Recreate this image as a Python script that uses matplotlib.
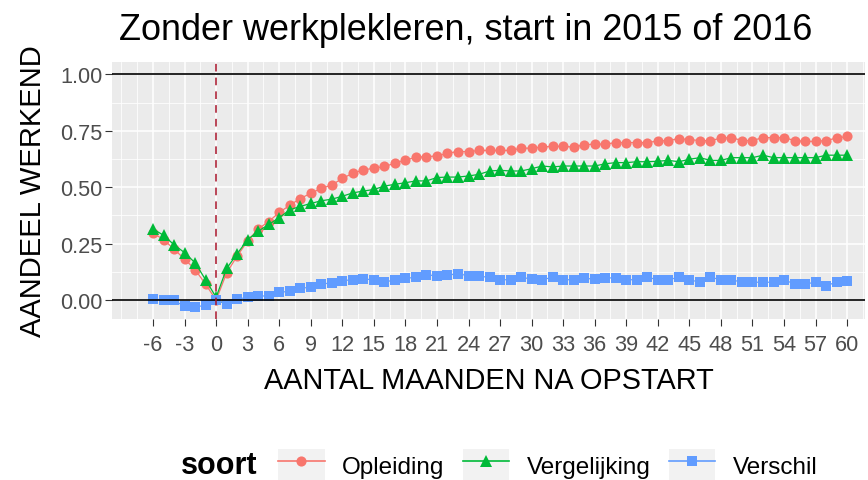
import numpy as np
import matplotlib
matplotlib.use('Agg')
import matplotlib.pyplot as plt
from matplotlib.patches import Rectangle
from matplotlib.lines import Line2D
from matplotlib.legend_handler import HandlerTuple

plt.rcParams['font.family'] = ['Liberation Sans', 'DejaVu Sans']
plt.rcParams['axes.unicode_minus'] = False

# data, months -6 .. 60
maanden = list(range(-6, 61))

opleiding = [0.297, 0.268, 0.225, 0.182, 0.135, 0.070, 0.000,
             0.120, 0.195, 0.262, 0.315, 0.348, 0.388, 0.420, 0.450, 0.473, 0.495,
             0.510, 0.539, 0.562, 0.577, 0.584, 0.592, 0.606, 0.621, 0.632, 0.636,
             0.638, 0.651, 0.658, 0.658, 0.663, 0.663, 0.663, 0.663, 0.673, 0.673,
             0.678, 0.681, 0.681, 0.678, 0.688, 0.691, 0.691, 0.698, 0.698, 0.698,
             0.698, 0.705, 0.707, 0.715, 0.711, 0.707, 0.706, 0.718, 0.720, 0.707,
             0.707, 0.720, 0.720, 0.720, 0.707, 0.703, 0.703, 0.707, 0.718, 0.725]

vergelijking = [0.315, 0.287, 0.245, 0.210, 0.165, 0.090, 0.012,
                0.140, 0.205, 0.268, 0.305, 0.335, 0.365, 0.400, 0.415, 0.428, 0.440,
                0.447, 0.460, 0.475, 0.483, 0.490, 0.505, 0.513, 0.520, 0.528, 0.528,
                0.543, 0.545, 0.545, 0.550, 0.557, 0.572, 0.575, 0.572, 0.572, 0.582,
                0.594, 0.590, 0.594, 0.594, 0.594, 0.594, 0.604, 0.609, 0.609, 0.613,
                0.613, 0.615, 0.619, 0.613, 0.624, 0.631, 0.619, 0.619, 0.631, 0.631,
                0.631, 0.642, 0.631, 0.631, 0.631, 0.631, 0.631, 0.642, 0.642, 0.642]

verschil = [0.005, 0.000, -0.002, -0.028, -0.032, -0.022, 0.000,
            -0.018, 0.004, 0.012, 0.016, 0.020, 0.034, 0.039, 0.052, 0.057, 0.071,
            0.076, 0.086, 0.090, 0.093, 0.090, 0.079, 0.090, 0.096, 0.101, 0.111,
            0.108, 0.111, 0.116, 0.108, 0.105, 0.101, 0.090, 0.090, 0.101, 0.093,
            0.090, 0.101, 0.090, 0.090, 0.096, 0.093, 0.098, 0.098, 0.090, 0.090,
            0.101, 0.090, 0.090, 0.101, 0.090, 0.079, 0.101, 0.090, 0.090, 0.079,
            0.079, 0.079, 0.079, 0.090, 0.071, 0.071, 0.079, 0.064, 0.079, 0.086]

soorten = ['Opleiding', 'Vergelijking', 'Verschil']
kleuren = ['#F8766D', '#00BA38', '#619CFF']
markers = ['o', '^', 's']
msizes = [7.3, 8.3, 6.8]
reeksen = [opleiding, vergelijking, verschil]

xticks = list(range(-6, 61, 3))
yticks = [0, 0.25, 0.5, 0.75, 1.0]

W, H = 868, 481
L, R, T, B = 112, 865, 63, 320
fig = plt.figure(figsize=(W / 100, H / 100), dpi=100)
ax = fig.add_axes([L / W, 1 - B / H, (R - L) / W, (B - T) / H])

ax.set_facecolor('#EBEBEB')
for s in ax.spines.values():
    s.set_visible(False)

for naam, kleur, mk, ms, y in zip(soorten, kleuren, markers, msizes, reeksen):
    ax.plot(maanden, y, color=kleur, lw=0.9, marker=mk, markersize=ms,
            markeredgewidth=0, zorder=3)

ax.axhline(0, color='black', lw=1.2, zorder=4)
ax.axhline(1, color='black', lw=1.2, zorder=4)
ax.axvline(0, color='#A8142A', lw=1.1, dashes=(5, 4), zorder=4)

ax.set_xlim(-9.9, 61.7)
ax.set_ylim(-0.084, 1.055)
ax.set_xticks(xticks)
ax.set_xticks(np.arange(-9, 62, 1.5), minor=True)
ax.set_yticks(yticks)
ax.set_yticks(np.arange(0.125, 1.0, 0.25), minor=True)
ax.set_yticklabels(['%.2f' % v for v in yticks])
ax.grid(which='major', color='white', lw=1.1, zorder=0)
ax.grid(which='minor', color='white', lw=0.55, zorder=0)
ax.set_axisbelow(True)
ax.tick_params(which='major', length=5, width=0.8, color='#333333',
               labelsize=15.7, labelcolor='#4D4D4D')
ax.tick_params(axis='y', pad=2)
ax.tick_params(axis='x', pad=6)
ax.tick_params(which='minor', length=0)

ax.set_xlabel('AANTAL MAANDEN NA OPSTART', fontsize=20.8, va='center')
ax.xaxis.set_label_coords(0.5, (B - 381) / (B - T))
ax.set_ylabel('AANDEEL WERKEND', fontsize=21, va='center')
ax.yaxis.set_label_coords((33 - L) / (R - L), 0.5)
fig.text(119 / W, 1 - 40 / H, 'Zonder werkplekleren, start in 2015 of 2016',
         fontsize=25.9, ha='left', va='baseline')

# legend below the plot, ggplot style
handles = []
for kleur, mk, ms in zip(kleuren, markers, msizes):
    bg = Rectangle((0, 0), 1, 1, facecolor='#F2F2F2', edgecolor='none')
    ln = Line2D([], [], color=kleur, lw=1.2, marker=mk, markersize=ms,
                markeredgewidth=0)
    handles.append((bg, ln))

fig.text(181 / W, 1 - 466 / H, 'soort', fontsize=22, fontweight='bold',
         va='center', ha='left')
fig.legend(handles, soorten, handler_map={tuple: HandlerTuple(ndivide=1, pad=0)},
           loc='center left', bbox_to_anchor=(278 / W, 1 - 466 / H), ncol=3,
           frameon=False, fontsize=17.5, borderpad=0, borderaxespad=0,
           handlelength=1.93, handleheight=1.65, handletextpad=0.7,
           columnspacing=0.75)

fig.savefig('out.png', dpi=100)
